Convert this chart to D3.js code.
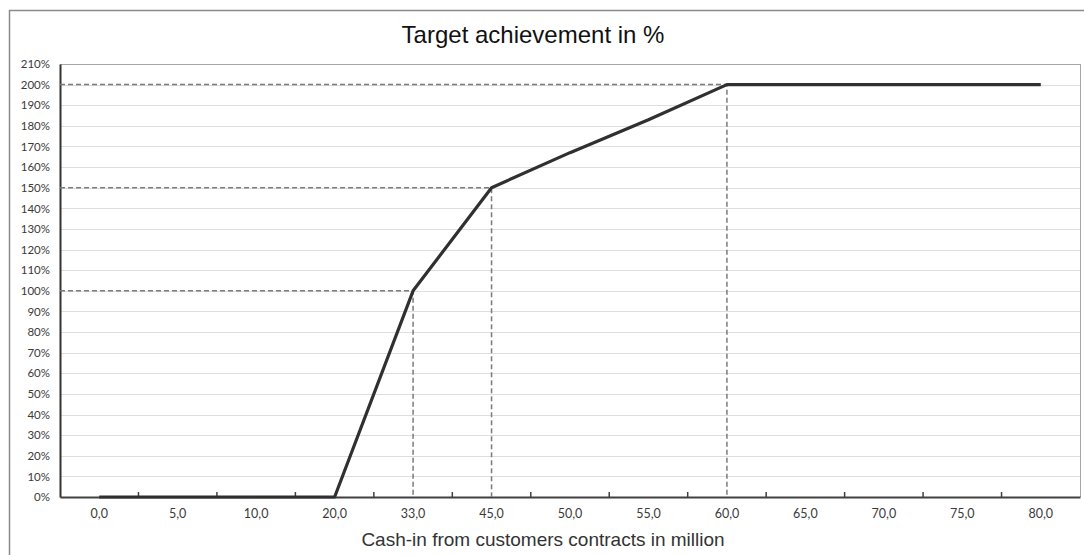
<!DOCTYPE html>
<html>
<head>
<meta charset="utf-8">
<script src="https://cdn.jsdelivr.net/npm/d3@7"></script>
<style>
  html, body { margin: 0; padding: 0; background: #fff; }
  svg { display: block; }
</style>
</head>
<body>
<svg id="chart" width="1084" height="555"></svg>
<script>
// Cash-in categories (million) along the x axis
const categories = ["0,0", "5,0", "10,0", "20,0", "33,0", "45,0", "50,0", "55,0", "60,0", "65,0", "70,0", "75,0", "80,0"];
// Target achievement (%) for each cash-in level
const achievement = [0, 0, 0, 0, 100, 150, 167, 183, 200, 200, 200, 200, 200];
// Threshold points highlighted with dashed guide lines
const thresholdCategories = ["33,0", "45,0", "60,0"];
const thresholdValues = [100, 150, 200];
// Y axis ticks (percent)
const yTicks = d3.range(0, 211, 10);

const svg = d3.select("#chart");
const W = 1084, H = 555;
const plot = { left: 60, right: 1080, top: 64, bottom: 497 };

// Outer chart frame (left and top edges visible)
svg.append("path")
  .attr("d", `M9.5,${H} L9.5,10.5 L${W},10.5`)
  .attr("fill", "none")
  .attr("stroke", "#8a8a8a")
  .attr("stroke-width", 1.5);

const x = d3.scaleBand().domain(categories).range([plot.left, plot.right]).padding(0);
const cx = c => x(c) + x.bandwidth() / 2;
const y = d3.scaleLinear().domain([0, 210]).range([plot.bottom, plot.top]);

// Horizontal gridlines
svg.append("g")
  .selectAll("line")
  .data(yTicks.filter(t => t > 0))
  .join("line")
  .attr("x1", plot.left).attr("x2", plot.right)
  .attr("y1", d => Math.round(y(d)) + 0.5).attr("y2", d => Math.round(y(d)) + 0.5)
  .attr("stroke", d => d === 210 ? "#a6a6a6" : "#dedede")
  .attr("stroke-width", 1);

// Right border of the plot area
svg.append("line")
  .attr("x1", plot.right + 0.5).attr("x2", plot.right + 0.5)
  .attr("y1", plot.top).attr("y2", plot.bottom)
  .attr("stroke", "#a6a6a6").attr("stroke-width", 1);

// Y axis
const yAxis = svg.append("g")
  .attr("transform", `translate(${plot.left},0)`)
  .call(d3.axisLeft(y).tickValues(yTicks).tickSize(0).tickPadding(10).tickFormat(d => d + "%"));
yAxis.select(".domain").attr("stroke", "#333").attr("stroke-width", 2);
yAxis.selectAll("text")
  .attr("font-family", "Lato, 'Open Sans', sans-serif")
  .attr("font-size", "11.5px")
  .attr("fill", "#3a3a3a");

// X axis
const xAxis = svg.append("g")
  .attr("transform", `translate(0,${plot.bottom})`)
  .call(d3.axisBottom(x).tickSize(0).tickPadding(12));
xAxis.select(".domain").attr("stroke", "#404040").attr("stroke-width", 2);
xAxis.selectAll("text")
  .attr("font-family", "Lato, 'Open Sans', sans-serif")
  .attr("font-size", "12.5px")
  .attr("fill", "#3a3a3a");

// Inner tick marks at category boundaries
svg.append("g")
  .selectAll("line")
  .data(categories.slice(1))
  .join("line")
  .attr("x1", d => x(d)).attr("x2", d => x(d))
  .attr("y1", plot.bottom).attr("y2", plot.bottom - 5)
  .attr("stroke", "#404040").attr("stroke-width", 1.5);

// Dashed guide lines to the threshold points
const guides = svg.append("g")
  .attr("fill", "none")
  .attr("stroke", "#7a7a7a")
  .attr("stroke-width", 1.5)
  .attr("stroke-dasharray", "5,3");
thresholdCategories.forEach((c, i) => {
  const px = cx(c), py = y(thresholdValues[i]);
  guides.append("path")
    .attr("d", `M${plot.left},${py} L${px},${py} L${px},${plot.bottom}`);
});

// Achievement curve
const pts = categories.map((c, i) => ({ c, v: achievement[i] }));
svg.append("path")
  .datum(pts)
  .attr("fill", "none")
  .attr("stroke", "#303030")
  .attr("stroke-width", 3.2)
  .attr("stroke-linejoin", "round")
  .attr("d", d3.line().x(d => cx(d.c)).y(d => y(d.v)));

// Title
svg.append("text")
  .attr("x", 533).attr("y", 43)
  .attr("text-anchor", "middle")
  .attr("font-family", "'Liberation Sans', Arial, sans-serif")
  .attr("font-size", "24px")
  .attr("fill", "#111")
  .text("Target achievement in %");

// X axis title
svg.append("text")
  .attr("x", 543).attr("y", 546)
  .attr("text-anchor", "middle")
  .attr("font-family", "'Liberation Sans', Arial, sans-serif")
  .attr("font-size", "19px")
  .attr("fill", "#333")
  .text("Cash-in from customers contracts in million");
</script>
</body>
</html>
